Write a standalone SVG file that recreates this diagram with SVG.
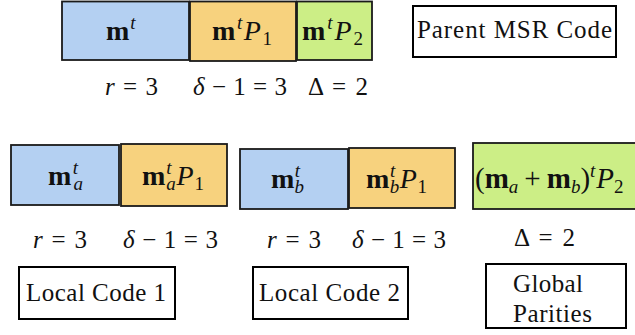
<svg xmlns="http://www.w3.org/2000/svg" width="635" height="335" viewBox="0 0 635 335">
<style>
  .blk{stroke:#1a1a1a;stroke-width:1.8}
  .blue{fill:#b4d0f2}
  .org{fill:#f7d27e}
  .grn{fill:#ccee86}
  .lbl{fill:#fff;stroke:#000;stroke-width:2}
  text{font-family:"Liberation Serif","DejaVu Serif",serif;font-size:25px;fill:#111}
  .m{font-size:28px}
  .b{font-weight:bold}
  .i{font-style:italic}
  .s{font-size:19px}
</style>
<rect width="635" height="335" fill="#fff"/>
<g id="parent-m">
  <rect class="blk blue" x="62" y="1.5" width="127" height="58.5"/>
  <text class="m" x="106" y="40"><tspan class="b">m</tspan><tspan class="i s" dx="1" dy="-11">t</tspan></text>
</g>
<g id="parent-p1">
  <rect class="blk org" x="190" y="1.5" width="106" height="59.5"/>
  <text class="m" x="212" y="40" textLength="60"><tspan class="b">m</tspan><tspan class="i s" dy="-11">t</tspan><tspan class="i" dy="11">P</tspan><tspan class="s" dy="5">1</tspan></text>
</g>
<g id="parent-p2">
  <rect class="blk grn" x="297" y="1.5" width="75" height="58.5"/>
  <text class="m" x="302" y="40" textLength="61"><tspan class="b">m</tspan><tspan class="i s" dy="-11">t</tspan><tspan class="i" dy="11">P</tspan><tspan class="s" dy="5">2</tspan></text>
</g>
<g id="parent-labels">
  <text x="105" y="95" textLength="53"><tspan class="i">r</tspan> = 3</text>
  <text x="193" y="95" textLength="94"><tspan class="i">δ</tspan> − 1 = 3</text>
  <text x="308" y="95" textLength="60">Δ = 2</text>
</g>
<g id="parent-msr-code">
  <rect class="lbl" x="413" y="6" width="203" height="51"/>
  <text x="417" y="38" textLength="195">Parent MSR Code</text>
</g>

<g id="local-a-m">
  <rect class="blk blue" x="11" y="145" width="108" height="60"/>
  <text class="m" x="48" y="185" textLength="35"><tspan class="b">m</tspan><tspan class="i s" dy="-11">t</tspan><tspan class="i s" dx="-6" dy="16">a</tspan></text>
</g>
<g id="local-a-p1">
  <rect class="blk org" x="121" y="144" width="106" height="62"/>
  <text class="m" x="142" y="185" textLength="62"><tspan class="b">m</tspan><tspan class="i s" dy="-11">t</tspan><tspan class="i s" dx="-6" dy="16">a</tspan><tspan class="i" dy="-5">P</tspan><tspan class="s" dy="5">1</tspan></text>
</g>
<g id="local-b-m">
  <rect class="blk blue" x="240" y="149" width="108" height="60"/>
  <text class="m" x="271" y="188" textLength="33"><tspan class="b">m</tspan><tspan class="i s" dy="-11">t</tspan><tspan class="i s" dx="-6" dy="16">b</tspan></text>
</g>
<g id="local-b-p1">
  <rect class="blk org" x="349" y="148" width="106" height="60"/>
  <text class="m" x="366" y="188" textLength="61"><tspan class="b">m</tspan><tspan class="i s" dy="-11">t</tspan><tspan class="i s" dx="-6" dy="16">b</tspan><tspan class="i" dy="-5">P</tspan><tspan class="s" dy="5">1</tspan></text>
</g>
<g id="global-parity">
  <rect class="blk grn" x="473" y="143" width="170" height="66"/>
  <text x="475" y="188" style="font-size:29px">(<tspan class="b">m</tspan><tspan class="i s" dy="5">a</tspan><tspan dy="-5" dx="6">+</tspan><tspan class="b" dx="6">m</tspan><tspan class="i s" dy="5">b</tspan><tspan dy="-5">)</tspan><tspan class="i s" dy="-11">t</tspan><tspan class="i" dx="1" dy="11">P</tspan><tspan class="s" dy="5">2</tspan></text>
</g>
<g id="local-labels">
  <text x="33" y="248" textLength="54"><tspan class="i">r</tspan> = 3</text>
  <text x="123" y="248" textLength="95"><tspan class="i">δ</tspan> − 1 = 3</text>
  <text x="267" y="248" textLength="54"><tspan class="i">r</tspan> = 3</text>
  <text x="352" y="248" textLength="94"><tspan class="i">δ</tspan> − 1 = 3</text>
  <text x="514" y="246" textLength="61">Δ = 2</text>
</g>
<g id="local-code-1">
  <rect class="lbl" x="19" y="267" width="156" height="52"/>
  <text x="26" y="301" textLength="140">Local Code 1</text>
</g>
<g id="local-code-2">
  <rect class="lbl" x="253" y="267" width="155" height="52"/>
  <text x="259" y="301" textLength="141">Local Code 2</text>
</g>
<g id="global-parities">
  <rect class="lbl" x="486" y="264" width="140" height="64"/>
  <text x="513" y="292" textLength="70">Global</text>
  <text x="513" y="322" textLength="79">Parities</text>
</g>
<g id="connectors"/>
</svg>
